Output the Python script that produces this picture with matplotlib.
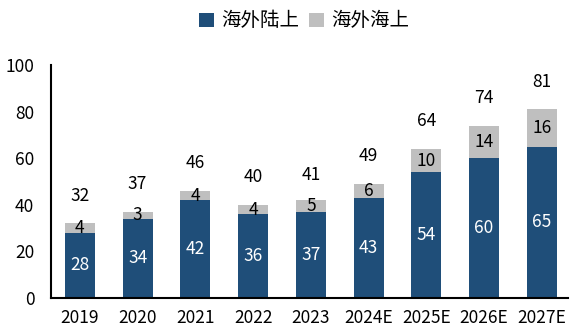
import matplotlib
matplotlib.use("Agg")
import matplotlib.pyplot as plt
import numpy as np

years = ["2019", "2020", "2021", "2022", "2023", "2024E", "2025E", "2026E", "2027E"]
onshore = [28, 34, 42, 36, 37, 43, 54, 60, 65]
offshore = [4, 3, 4, 4, 5, 6, 10, 14, 16]
totals = [32, 37, 46, 40, 41, 49, 64, 74, 81]

plt.rcParams['font.family'] = ['Noto Sans CJK SC', 'DejaVu Sans']
plt.rcParams['font.size'] = 12

fig = plt.figure(figsize=(5.71, 3.27), dpi=100)
ax = fig.add_axes([0.0893, 0.0887, 0.905, 0.712])

x = np.arange(len(years))
w = 0.52
blue = '#1F4E79'
gray = '#BFBFBF'

ax.bar(x, onshore, width=w, color=blue, label='海外陆上')
ax.bar(x, offshore, width=w, bottom=onshore, color=gray, label='海外海上')

for i in range(len(years)):
    ax.text(x[i], onshore[i] / 2, str(onshore[i]), ha='center', va='center',
            color='white', fontsize=12.5)
    ax.text(x[i], onshore[i] + offshore[i] / 2, str(offshore[i]), ha='center',
            va='center', color='black', fontsize=12.5)
    ax.annotate(str(totals[i]), (x[i], totals[i]), xytext=(0, 20),
                textcoords='offset points', ha='center', va='center', fontsize=12.5)

ax.set_xlim(-0.5, 8.45)
ax.set_ylim(0, 100)
ax.set_yticks([0, 20, 40, 60, 80, 100])
ax.set_xticks(x)
ax.set_xticklabels(years)
ax.tick_params(axis='both', length=0, labelsize=12.5)
ax.tick_params(axis='y', pad=12)
ax.tick_params(axis='x', pad=8)
for s in ['top', 'right']:
    ax.spines[s].set_visible(False)
for s in ['left', 'bottom']:
    ax.spines[s].set_linewidth(1.5)
    ax.spines[s].set_color('black')

ax.legend(loc='center', bbox_to_anchor=(0.49, 1.19), ncol=2, frameon=False,
          handlelength=0.75, handleheight=0.75, handletextpad=0.4, columnspacing=0.5,
          fontsize=14)

fig.savefig("out.png", dpi=100)
